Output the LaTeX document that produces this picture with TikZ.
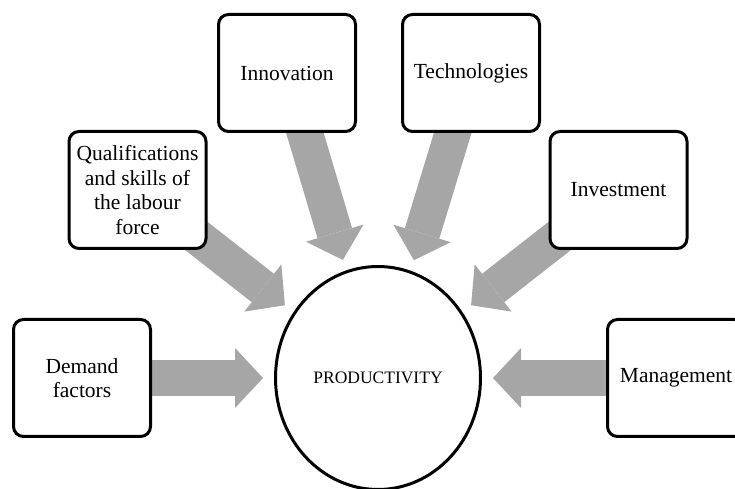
\documentclass[tikz,border=0pt]{standalone}
\usepackage{fontspec}
\setmainfont{Liberation Serif}
\usetikzlibrary{arrows.meta,shapes.geometric,backgrounds}
\definecolor{arrowgray}{RGB}{166,166,166}
\begin{document}
\begin{tikzpicture}[x=1pt,y=1pt,
  factor/.style={draw=black, line width=3pt, fill=white, rounded corners=10pt,
    minimum width=137pt, minimum height=117pt, align=center, inner sep=0pt,
    font=\fontsize{21.5}{24.5}\selectfont},
  hub/.style={ellipse, draw=black, line width=3pt, fill=white,
    minimum width=205pt, minimum height=223pt, inner sep=0pt,
    font=\fontsize{17.5}{20}\selectfont},
  flow/.style={draw=arrowgray, line width=36pt,
    -{Triangle[width=60pt,length=28pt,line width=0pt]}, shorten >=11pt}]
\useasboundingbox (0,0) rectangle (735,489);
\clip (0,0) rectangle (735,489);
\node[hub] (prod) at (378,111) {PRODUCTIVITY};
\node[factor] (innov) at (287,416) {Innovation};
\node[factor] (tech) at (471,416) {Technologies};
\node[factor] (qual) at (137.5,299) {Qualifications\\and skills of\\the labour\\force};
\node[factor] (inv) at (618.5,299) {Investment};
\node[factor] (dem) at (82,111) {Demand\\factors};
\node[factor] (man) at (676,111) {Management};
\begin{scope}[on background layer]
  \draw[flow] (innov.center) -- (prod);
  \draw[flow] (tech.center) -- (prod);
  \draw[flow] (qual.center) -- (prod);
  \draw[flow] (inv.center) -- (prod);
  \draw[flow] (dem.center) -- (prod);
  \draw[flow] (man.center) -- (prod);
\end{scope}
\end{tikzpicture}
\end{document}
